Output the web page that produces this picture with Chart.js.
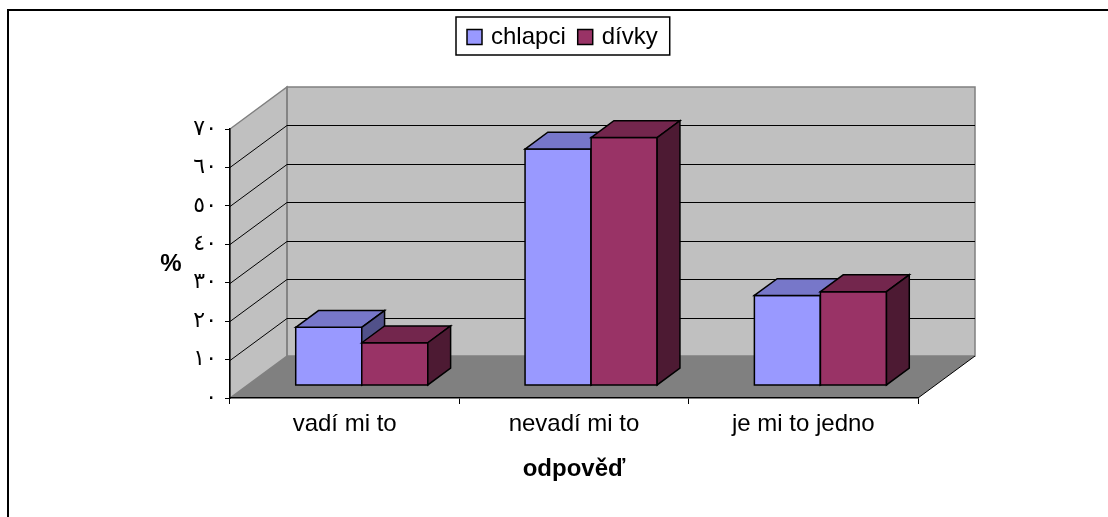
<!DOCTYPE html>
<html>
<head>
<meta charset="utf-8">
<script src="https://cdn.jsdelivr.net/npm/chart.js@4/dist/chart.umd.min.js"></script>
<style>
    html, body { margin: 0; padding: 0; background: #ffffff; }
    canvas { display: block; }
</style>
</head>
<body>
<canvas id="chart" width="1108" height="517"></canvas>
<script>
// data
const categories = ["vadí mi to", "nevadí mi to", "je mi to jedno"];
const seriesNames = ["chlapci", "dívky"];
const chlapciValues = [15.1, 61.5, 23.4];
const divkyValues = [11.1, 64.5, 24.4];
const yTickLabels = ["٠", "١٠", "٢٠", "٣٠", "٤٠", "٥٠", "٦٠", "٧٠"];
const xTitle = "odpověď";
const yTitle = "%";

// colours: front, top, side
const faceColors = [
    ["#9999ff", "#7777c9", "#51518a"],
    ["#993366", "#73264d", "#4d1a33"]
];

const FONT = "'Liberation Sans', Arial, sans-serif";
const DEPTH_X = 57;     // full depth of the floor
const DEPTH_Y = -42;
const BAR_FRONT = 0.3;  // bars sit between 0.3 and 0.7 of the depth
const BAR_BACK = 0.7;

function drawBox(ctx, x0, x1, yTop, yBase, dx, dy, colors) {
    ctx.lineWidth = 1.5;
    ctx.strokeStyle = "#000000";
    ctx.lineJoin = "miter";
    // front
    ctx.beginPath();
    ctx.rect(x0, yTop, x1 - x0, yBase - yTop);
    ctx.fillStyle = colors[0];
    ctx.fill();
    ctx.stroke();
    // top
    ctx.beginPath();
    ctx.moveTo(x0, yTop);
    ctx.lineTo(x0 + dx, yTop + dy);
    ctx.lineTo(x1 + dx, yTop + dy);
    ctx.lineTo(x1, yTop);
    ctx.closePath();
    ctx.fillStyle = colors[1];
    ctx.fill();
    ctx.stroke();
    // side
    ctx.beginPath();
    ctx.moveTo(x1, yTop);
    ctx.lineTo(x1 + dx, yTop + dy);
    ctx.lineTo(x1 + dx, yBase + dy);
    ctx.lineTo(x1, yBase);
    ctx.closePath();
    ctx.fillStyle = colors[2];
    ctx.fill();
    ctx.stroke();
}

const box3d = {
    id: "box3d",
    beforeDraw(chart) {
        const ctx = chart.ctx;
        const a = chart.chartArea;
        const y = chart.scales.y;
        ctx.save();

        // outer frame
        ctx.strokeStyle = "#000000";
        ctx.lineWidth = 2;
        ctx.beginPath();
        ctx.moveTo(8, chart.height);
        ctx.lineTo(8, 10);
        ctx.lineTo(chart.width, 10);
        ctx.stroke();

        // back wall
        ctx.fillStyle = "#c0c0c0";
        ctx.fillRect(a.left + DEPTH_X, a.top + DEPTH_Y, a.right - a.left, a.bottom - a.top);
        // side wall
        ctx.beginPath();
        ctx.moveTo(a.left, a.top);
        ctx.lineTo(a.left + DEPTH_X, a.top + DEPTH_Y);
        ctx.lineTo(a.left + DEPTH_X, a.bottom + DEPTH_Y);
        ctx.lineTo(a.left, a.bottom);
        ctx.closePath();
        ctx.fill();
        ctx.strokeStyle = "#808080";
        ctx.lineWidth = 1.5;
        ctx.stroke();
        ctx.strokeRect(a.left + DEPTH_X, a.top + DEPTH_Y, a.right - a.left, a.bottom - a.top);

        // gridlines on the walls
        ctx.strokeStyle = "#000000";
        ctx.lineWidth = 1;
        y.ticks.forEach(function (t) {
            if (t.value === y.min || t.value === y.max) return;
            const py = Math.round(y.getPixelForValue(t.value)) + 0.5;
            ctx.beginPath();
            ctx.moveTo(a.left, py);
            ctx.lineTo(a.left + DEPTH_X, py + DEPTH_Y);
            ctx.lineTo(a.right + DEPTH_X, py + DEPTH_Y);
            ctx.stroke();
        });

        // floor
        ctx.beginPath();
        ctx.moveTo(a.left, a.bottom);
        ctx.lineTo(a.right, a.bottom);
        ctx.lineTo(a.right + DEPTH_X, a.bottom + DEPTH_Y);
        ctx.lineTo(a.left + DEPTH_X, a.bottom + DEPTH_Y);
        ctx.closePath();
        ctx.fillStyle = "#808080";
        ctx.fill();
        ctx.strokeStyle = "#000000";
        ctx.lineWidth = 1;
        ctx.beginPath();
        ctx.moveTo(a.right, a.bottom);
        ctx.lineTo(a.right + DEPTH_X, a.bottom + DEPTH_Y);
        ctx.stroke();

        ctx.restore();
    },
    beforeDatasetDraw() {
        return false;
    },
    afterDatasetsDraw(chart) {
        const ctx = chart.ctx;
        const fx = DEPTH_X * BAR_FRONT, fy = DEPTH_Y * BAR_FRONT;
        const dx = DEPTH_X * (BAR_BACK - BAR_FRONT), dy = DEPTH_Y * (BAR_BACK - BAR_FRONT);
        ctx.save();
        categories.forEach(function (c, i) {
            chart.data.datasets.forEach(function (ds, d) {
                const el = chart.getDatasetMeta(d).data[i];
                const x0 = el.x - el.width / 2 + fx;
                const x1 = el.x + el.width / 2 + fx;
                drawBox(ctx, x0, x1, el.y + fy, el.base + fy, dx, dy, faceColors[d]);
            });
        });
        ctx.restore();
    },
    afterDraw(chart) {
        const ctx = chart.ctx;
        const a = chart.chartArea;
        ctx.save();

        // y title, upright
        ctx.fillStyle = "#000000";
        ctx.font = "bold 24px " + FONT;
        ctx.textAlign = "center";
        ctx.textBaseline = "middle";
        ctx.fillText(yTitle, a.left - 59, (a.top + a.bottom) / 2 + 1);

        // legend with a frame
        ctx.font = "24px " + FONT;
        ctx.textAlign = "left";
        const lx = 456, ly = 17, lh = 38, sq = 15;
        let x = lx + 11;
        const items = chart.data.datasets.map(function (ds, d) {
            const item = { x: x, d: d, label: ds.label };
            x += sq + 9 + ctx.measureText(ds.label).width + 12;
            return item;
        });
        const lw = x - 12 + 12 - lx;
        ctx.fillStyle = "#ffffff";
        ctx.fillRect(lx, ly, lw, lh);
        ctx.strokeStyle = "#000000";
        ctx.lineWidth = 1.5;
        ctx.strokeRect(lx, ly, lw, lh);
        items.forEach(function (it) {
            ctx.fillStyle = faceColors[it.d][0];
            ctx.fillRect(it.x, ly + lh / 2 - sq / 2 + 1, sq, sq);
            ctx.strokeRect(it.x, ly + lh / 2 - sq / 2 + 1, sq, sq);
            ctx.fillStyle = "#000000";
            ctx.fillText(it.label, it.x + sq + 9, ly + lh / 2 + 1);
        });
        ctx.restore();
    }
};

const ctx = document.getElementById("chart").getContext("2d");
const chart = new Chart(ctx, {
    type: "bar",
    data: {
        labels: categories,
        datasets: [
            { label: seriesNames[0], data: chlapciValues, backgroundColor: faceColors[0][0] },
            { label: seriesNames[1], data: divkyValues, backgroundColor: faceColors[1][0] }
        ]
    },
    options: {
        responsive: false,
        animation: false,
        events: [],
        layout: { padding: { left: 0, right: 190, top: 129, bottom: 0 } },
        plugins: {
            legend: { display: false },
            tooltip: { enabled: false }
        },
        datasets: {
            bar: { categoryPercentage: 0.576, barPercentage: 1 }
        },
        scales: {
            x: {
                grid: {
                    drawOnChartArea: false,
                    drawTicks: true,
                    tickLength: 6,
                    color: "#000000"
                },
                border: { display: true, color: "#000000", width: 1.5 },
                ticks: {
                    color: "#000000",
                    font: { family: FONT, size: 24 },
                    padding: 6,
                    maxRotation: 0
                },
                title: {
                    display: true,
                    text: xTitle,
                    color: "#000000",
                    font: { family: FONT, size: 24, weight: "bold" },
                    padding: { top: 0, bottom: 33 }
                },
                afterFit(scale) { scale.height = 119; }
            },
            y: {
                min: 0,
                max: 70,
                grid: {
                    drawOnChartArea: false,
                    drawTicks: true,
                    tickLength: 5,
                    color: "#000000"
                },
                border: { display: true, color: "#000000", width: 1.5 },
                ticks: {
                    stepSize: 10,
                    color: "#000000",
                    font: { family: "'DejaVu Sans', sans-serif", size: 22 },
                    padding: 8,
                    callback: function (v, i) { return yTickLabels[i]; }
                },
                afterFit(scale) { scale.width = 230; }
            }
        }
    },
    plugins: [box3d]
});
</script>
</body>
</html>
